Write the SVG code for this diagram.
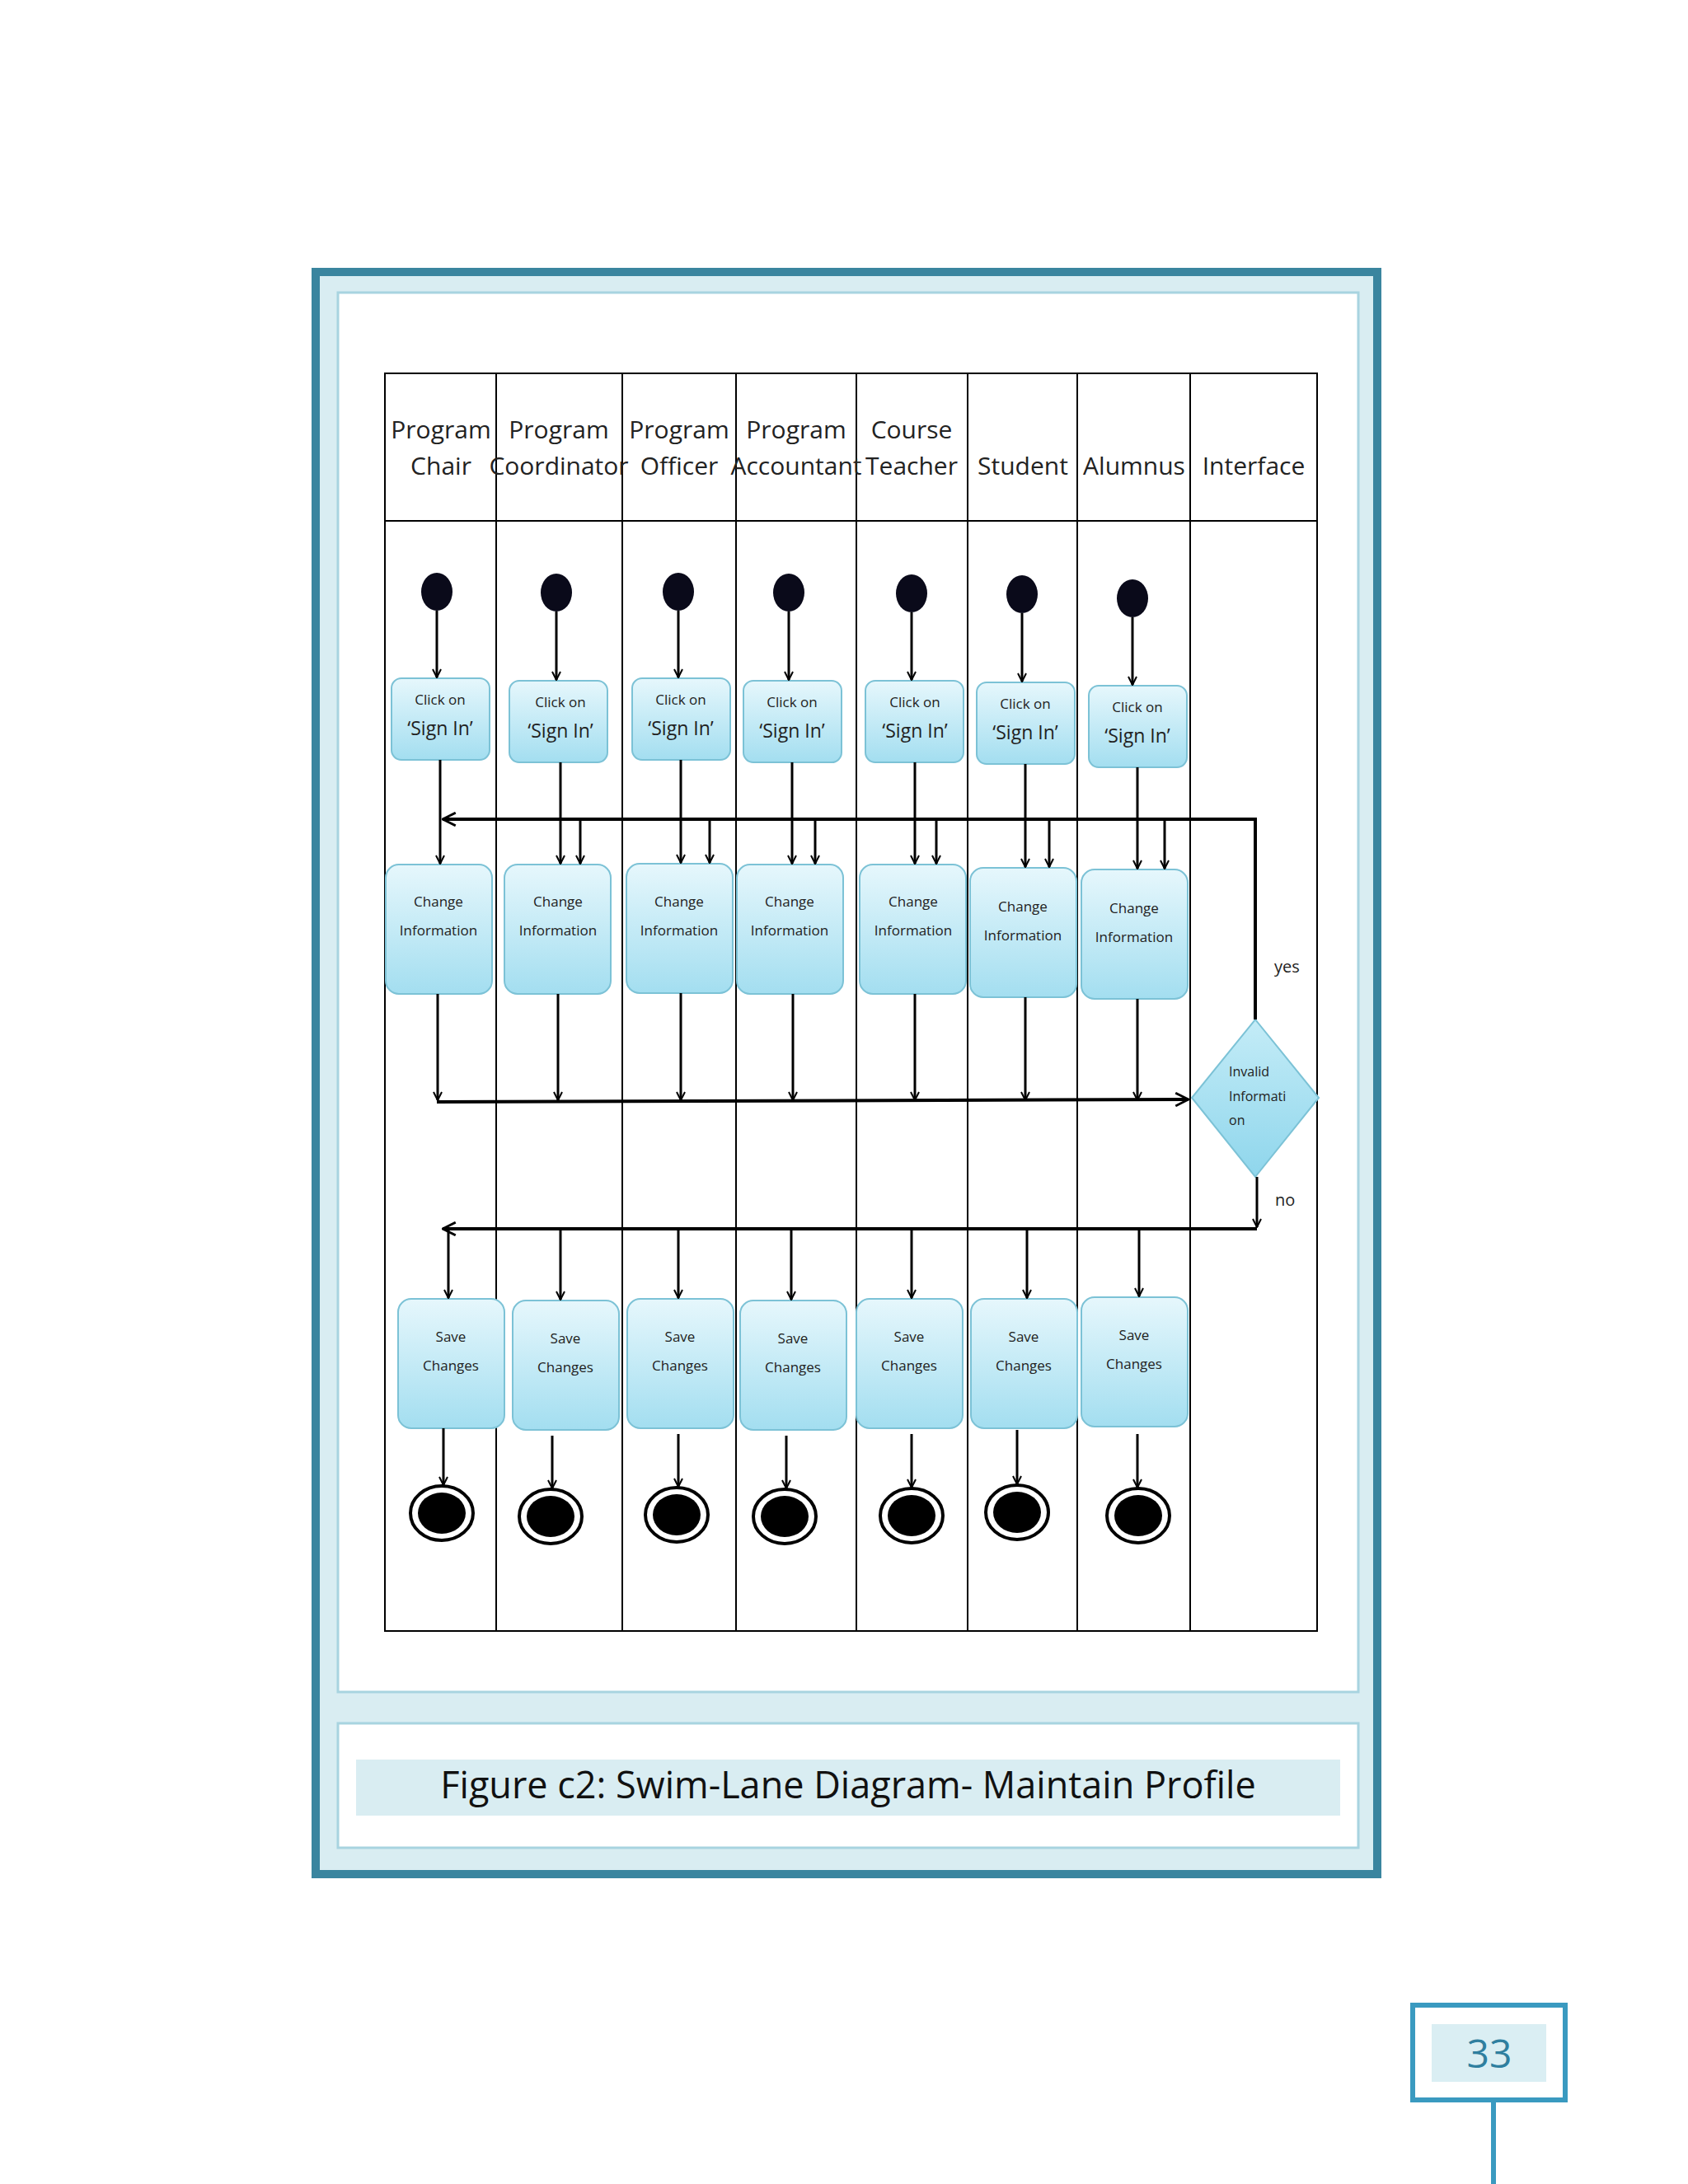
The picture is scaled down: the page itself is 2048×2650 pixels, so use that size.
<svg xmlns="http://www.w3.org/2000/svg" width="2048" height="2650" viewBox="0 0 2048 2650">
<defs>
<linearGradient id="g" x1="0" y1="0" x2="0" y2="1"><stop offset="0" stop-color="#e6f7fc"/><stop offset="1" stop-color="#a3def0"/></linearGradient>
<linearGradient id="gd" x1="0" y1="0" x2="0" y2="1"><stop offset="0" stop-color="#c4ecf7"/><stop offset="1" stop-color="#8fd6ec"/></linearGradient>
<marker id="a" viewBox="0 0 12 12" refX="11" refY="6" markerWidth="12" markerHeight="12" markerUnits="userSpaceOnUse" orient="auto"><path d="M1,1 L11,6 L1,11" fill="none" stroke="#000" stroke-width="2"/></marker>
<marker id="A" viewBox="0 0 16 16" refX="15" refY="8" markerWidth="18" markerHeight="18" markerUnits="userSpaceOnUse" orient="auto"><path d="M1,1 L15,8 L1,15" fill="none" stroke="#000" stroke-width="2.5"/></marker>
</defs>
<style>
.box{fill:url(#g);stroke:#7cc2d6;stroke-width:2}
.t{font-family:"Open Sans","Liberation Sans",sans-serif;text-anchor:middle;fill:#222}
.s{font-size:17px}.m{font-size:23px}.h{font-size:30px}
.l{stroke:#000;stroke-width:3;fill:none}
.c{stroke:#000;stroke-width:4;fill:none}
.lane{stroke:#000;stroke-width:2}
</style>
<rect width="2048" height="2650" fill="#fff"/>
<rect x="383" y="330" width="1288" height="1944" fill="#d9edf2" stroke="#3a859f" stroke-width="10"/>
<rect x="410" y="355" width="1238" height="1698" fill="#fff" stroke="#a8d4e0" stroke-width="3"/>
<rect x="410" y="2091" width="1238" height="151" fill="#fff" stroke="#a8d4e0" stroke-width="3"/>
<rect x="432" y="2135" width="1194" height="68" fill="#d9edf2"/>
<text x="1029" y="2182" font-family="Open Sans,Liberation Sans,sans-serif" font-size="45" text-anchor="middle" fill="#111">Figure c2: Swim-Lane Diagram- Maintain Profile</text>
<g id="table">
<rect x="467" y="453" width="1131" height="1526" fill="#fff" class="lane"/>
<line x1="467" y1="632" x2="1598" y2="632" class="lane"/>
<g class="lane"><line x1="602" y1="453" x2="602" y2="1979"/><line x1="755" y1="453" x2="755" y2="1979"/><line x1="893" y1="453" x2="893" y2="1979"/><line x1="1039" y1="453" x2="1039" y2="1979"/><line x1="1174" y1="453" x2="1174" y2="1979"/><line x1="1307" y1="453" x2="1307" y2="1979"/><line x1="1444" y1="453" x2="1444" y2="1979"/></g>
<g class="t h"><text x="535" y="532">Program</text><text x="535" y="576">Chair</text><text x="678" y="532">Program</text><text x="678" y="576">Coordinator</text><text x="824" y="532">Program</text><text x="824" y="576">Officer</text><text x="966" y="532">Program</text><text x="966" y="576">Accountant</text><text x="1106" y="532">Course</text><text x="1106" y="576">Teacher</text><text x="1241" y="576">Student</text><text x="1376" y="576">Alumnus</text><text x="1521" y="576">Interface</text></g>
</g>
<g id="starts" fill="#0a0a1a">
<ellipse cx="530" cy="718" rx="19" ry="23"/><ellipse cx="675" cy="719" rx="19" ry="23"/><ellipse cx="823" cy="718" rx="19" ry="23"/><ellipse cx="957" cy="719" rx="19" ry="23"/><ellipse cx="1106" cy="720" rx="19" ry="23"/><ellipse cx="1240" cy="721" rx="19" ry="23"/><ellipse cx="1374" cy="726" rx="19" ry="23"/>
</g>
<g id="signin">
<rect class="box" x="475" y="823" width="119" height="99" rx="12"/><rect class="box" x="618" y="826" width="119" height="99" rx="12"/><rect class="box" x="767" y="823" width="119" height="99" rx="12"/><rect class="box" x="902" y="826" width="119" height="99" rx="12"/><rect class="box" x="1050" y="826" width="119" height="99" rx="12"/><rect class="box" x="1185" y="828" width="119" height="99" rx="12"/><rect class="box" x="1321" y="832" width="119" height="99" rx="12"/>
<g class="t s"><text x="534" y="855">Click on</text><text x="680" y="858">Click on</text><text x="826" y="855">Click on</text><text x="961" y="858">Click on</text><text x="1110" y="858">Click on</text><text x="1244" y="860">Click on</text><text x="1380" y="864">Click on</text></g>
<g class="t m"><text x="534" y="892">‘Sign In’</text><text x="680" y="895">‘Sign In’</text><text x="826" y="892">‘Sign In’</text><text x="961" y="895">‘Sign In’</text><text x="1110" y="895">‘Sign In’</text><text x="1244" y="897">‘Sign In’</text><text x="1380" y="901">‘Sign In’</text></g>
</g>
<g id="change">
<rect class="box" x="468" y="1049" width="129" height="157" rx="16"/><rect class="box" x="612" y="1049" width="129" height="157" rx="16"/><rect class="box" x="760" y="1048" width="129" height="157" rx="16"/><rect class="box" x="894" y="1049" width="129" height="157" rx="16"/><rect class="box" x="1043" y="1049" width="129" height="157" rx="16"/><rect class="box" x="1177" y="1053" width="129" height="157" rx="16"/><rect class="box" x="1312" y="1055" width="129" height="157" rx="16"/>
<g class="t s"><text x="532" y="1100">Change</text><text x="532" y="1135">Information</text><text x="677" y="1100">Change</text><text x="677" y="1135">Information</text><text x="824" y="1100">Change</text><text x="824" y="1135">Information</text><text x="958" y="1100">Change</text><text x="958" y="1135">Information</text><text x="1108" y="1100">Change</text><text x="1108" y="1135">Information</text><text x="1241" y="1106">Change</text><text x="1241" y="1141">Information</text><text x="1376" y="1108">Change</text><text x="1376" y="1143">Information</text></g>
</g>
<g id="decision">
<polygon points="1523,1237 1600,1332 1523,1428 1446,1332" fill="url(#gd)" stroke="#7cc2d6" stroke-width="2"/>
<g font-family="Open Sans,Liberation Sans,sans-serif" font-size="16" fill="#222"><text x="1491" y="1306">Invalid</text><text x="1491" y="1336">Informati</text><text x="1491" y="1365">on</text></g>
<g font-family="Open Sans,Liberation Sans,sans-serif" font-size="20" fill="#222"><text x="1546" y="1180">yes</text><text x="1547" y="1463">no</text></g>
</g>
<g id="save">
<rect class="box" x="483" y="1576" width="129" height="157" rx="16"/><rect class="box" x="622" y="1578" width="129" height="157" rx="16"/><rect class="box" x="761" y="1576" width="129" height="157" rx="16"/><rect class="box" x="898" y="1578" width="129" height="157" rx="16"/><rect class="box" x="1039" y="1576" width="129" height="157" rx="16"/><rect class="box" x="1178" y="1576" width="129" height="157" rx="16"/><rect class="box" x="1312" y="1574" width="129" height="157" rx="16"/>
<g class="t s"><text x="547" y="1628">Save</text><text x="547" y="1663">Changes</text><text x="686" y="1630">Save</text><text x="686" y="1665">Changes</text><text x="825" y="1628">Save</text><text x="825" y="1663">Changes</text><text x="962" y="1630">Save</text><text x="962" y="1665">Changes</text><text x="1103" y="1628">Save</text><text x="1103" y="1663">Changes</text><text x="1242" y="1628">Save</text><text x="1242" y="1663">Changes</text><text x="1376" y="1626">Save</text><text x="1376" y="1661">Changes</text></g>
</g>
<g id="ends">
<g fill="#fff" stroke="#000" stroke-width="4"><ellipse cx="536" cy="1836" rx="38" ry="33"/><ellipse cx="668" cy="1840" rx="38" ry="33"/><ellipse cx="821" cy="1838" rx="38" ry="33"/><ellipse cx="952" cy="1840" rx="38" ry="33"/><ellipse cx="1106" cy="1839" rx="38" ry="33"/><ellipse cx="1234" cy="1835" rx="38" ry="33"/><ellipse cx="1381" cy="1839" rx="38" ry="33"/></g>
<g fill="#000"><ellipse cx="536" cy="1836" rx="29" ry="25"/><ellipse cx="668" cy="1840" rx="29" ry="25"/><ellipse cx="821" cy="1838" rx="29" ry="25"/><ellipse cx="952" cy="1840" rx="29" ry="25"/><ellipse cx="1106" cy="1839" rx="29" ry="25"/><ellipse cx="1234" cy="1835" rx="29" ry="25"/><ellipse cx="1381" cy="1839" rx="29" ry="25"/></g>
</g>
<g id="connectors">
<g class="l" marker-end="url(#a)">
<line x1="530" y1="741" x2="530" y2="822"/><line x1="675" y1="742" x2="675" y2="825"/><line x1="823" y1="741" x2="823" y2="822"/><line x1="957" y1="742" x2="957" y2="825"/><line x1="1106" y1="743" x2="1106" y2="825"/><line x1="1240" y1="744" x2="1240" y2="827"/><line x1="1374" y1="749" x2="1374" y2="831"/>
<line x1="534" y1="922" x2="534" y2="1048"/><line x1="680" y1="925" x2="680" y2="1048"/><line x1="826" y1="922" x2="826" y2="1047"/><line x1="961" y1="925" x2="961" y2="1048"/><line x1="1110" y1="925" x2="1110" y2="1048"/><line x1="1244" y1="927" x2="1244" y2="1052"/><line x1="1380" y1="931" x2="1380" y2="1054"/>
<line x1="704" y1="994" x2="704" y2="1048"/><line x1="861" y1="994" x2="861" y2="1047"/><line x1="989" y1="994" x2="989" y2="1048"/><line x1="1136" y1="994" x2="1136" y2="1048"/><line x1="1273" y1="994" x2="1273" y2="1052"/><line x1="1413" y1="994" x2="1413" y2="1054"/>
<line x1="531" y1="1206" x2="531" y2="1335"/><line x1="677" y1="1206" x2="677" y2="1335"/><line x1="826" y1="1205" x2="826" y2="1335"/><line x1="962" y1="1206" x2="962" y2="1335"/><line x1="1110" y1="1206" x2="1110" y2="1335"/><line x1="1244" y1="1210" x2="1244" y2="1335"/><line x1="1380" y1="1212" x2="1380" y2="1335"/>
<line x1="1525" y1="1428" x2="1525" y2="1489"/>
<line x1="544" y1="1491" x2="544" y2="1575"/><line x1="680" y1="1491" x2="680" y2="1577"/><line x1="823" y1="1491" x2="823" y2="1575"/><line x1="960" y1="1491" x2="960" y2="1577"/><line x1="1106" y1="1491" x2="1106" y2="1575"/><line x1="1246" y1="1491" x2="1246" y2="1575"/><line x1="1382" y1="1491" x2="1382" y2="1573"/>
<line x1="538" y1="1733" x2="538" y2="1802"/><line x1="670" y1="1742" x2="670" y2="1806"/><line x1="823" y1="1740" x2="823" y2="1804"/><line x1="954" y1="1742" x2="954" y2="1806"/><line x1="1106" y1="1740" x2="1106" y2="1805"/><line x1="1234" y1="1735" x2="1234" y2="1801"/><line x1="1380" y1="1740" x2="1380" y2="1805"/>
</g>
<polyline class="c" points="1523,1237 1523,994 537,994" marker-end="url(#A)"/>
<line class="c" x1="530" y1="1337" x2="1442" y2="1334" marker-end="url(#A)"/>
<line class="c" x1="1525" y1="1491" x2="537" y2="1491" marker-end="url(#A)"/>
</g>
<g id="page">
<rect x="1714" y="2433" width="185" height="115" fill="#fff" stroke="#3a9ac0" stroke-width="6"/>
<rect x="1737" y="2456" width="139" height="70" fill="#daeef3"/>
<text x="1807" y="2509" font-family="Open Sans,Liberation Sans,sans-serif" font-size="48" text-anchor="middle" fill="#2f7f9f">33</text>
<line x1="1812" y1="2551" x2="1812" y2="2650" stroke="#3a9ac0" stroke-width="6"/>
</g>
</svg>
